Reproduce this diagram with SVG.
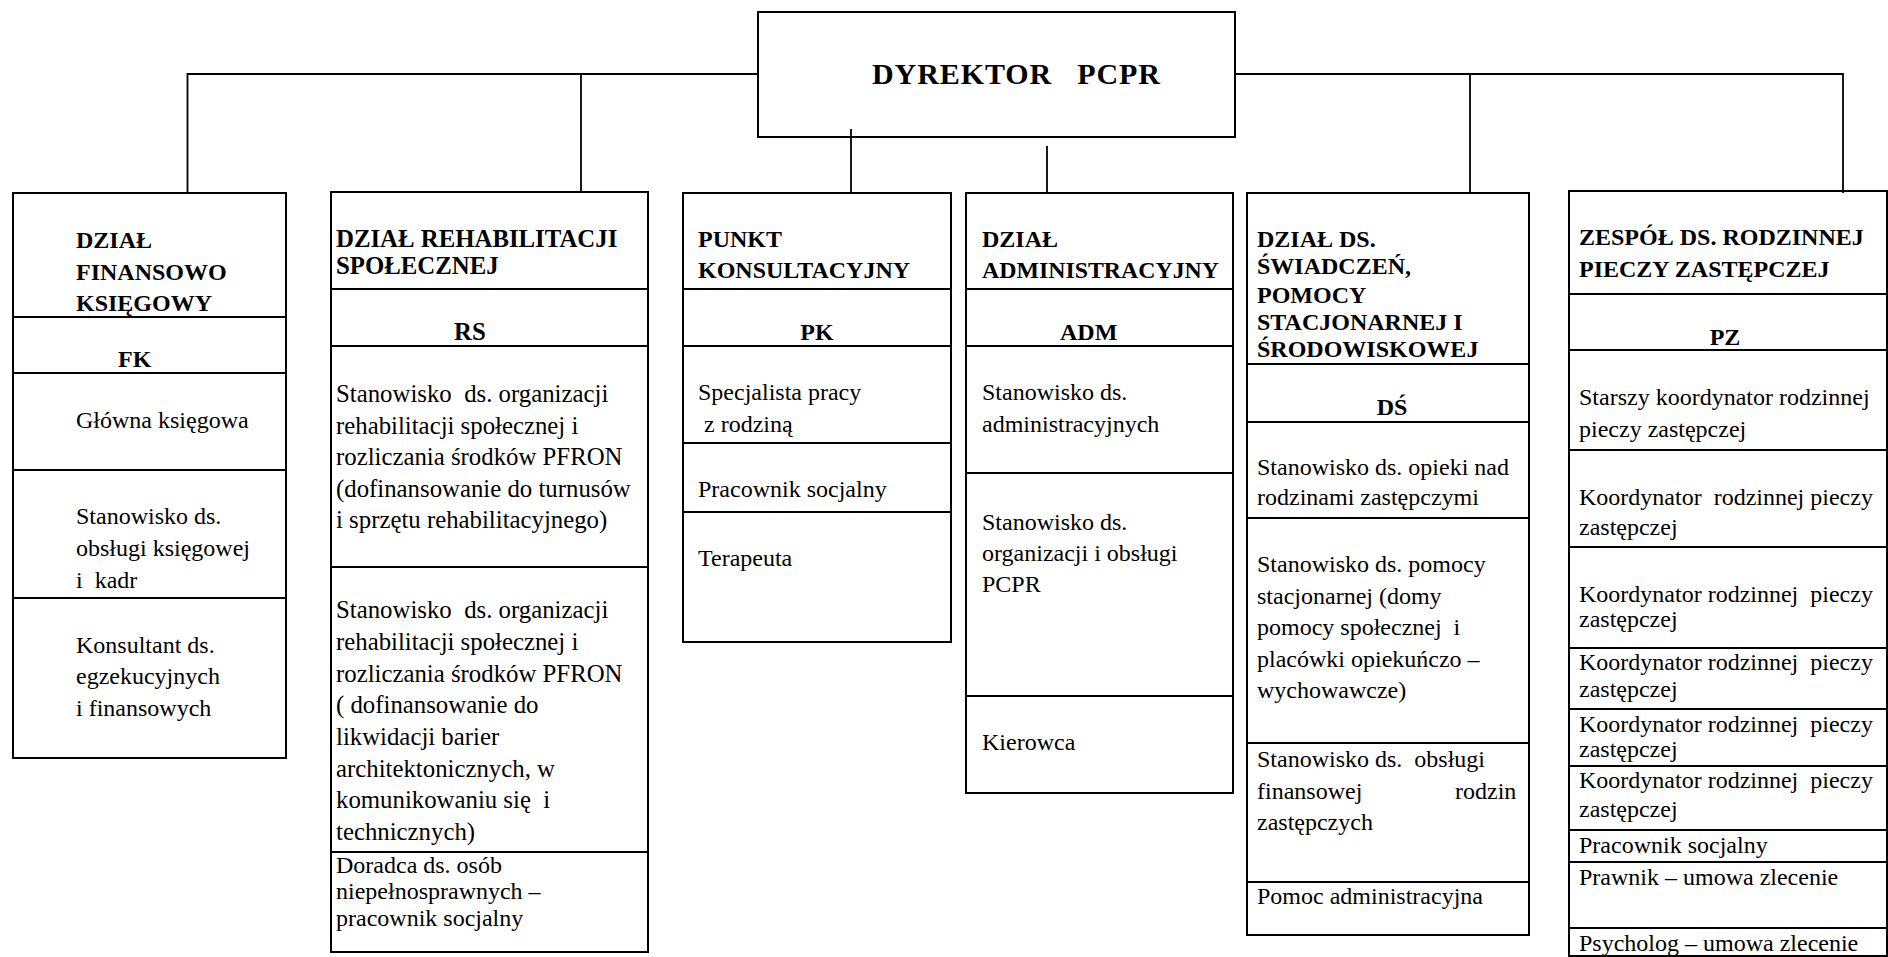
<svg xmlns="http://www.w3.org/2000/svg" width="1888" height="957" viewBox="0 0 1888 957">
<style>
.box{fill:none;stroke:#000;stroke-width:2}
.dv{stroke:#000;stroke-width:2}
.cn{stroke:#000;stroke-width:1.8;fill:none}
text{font-family:"Liberation Serif","Times New Roman",serif;font-size:24px;fill:#000;white-space:pre}
.b{font-weight:bold}
.c{text-anchor:middle}
.t{font-size:30px;font-weight:bold}
.r{font-size:24.8px}
</style>
<rect width="1888" height="957" fill="#fff"/>
<g id="connectors">
<path class="cn" d="M187.5,193 V74 H758 M1235,74 H1843 V193 M581,74 V192 M1470,74 V193 M851,129 V193 M1047,146 V193"/>
</g>
<g id="dyrektor">
<rect class="box" x="758" y="12" width="477" height="125"/>
<text class="t" x="872" y="84" textLength="288" lengthAdjust="spacing">DYREKTOR   PCPR</text>
</g>
<g id="fk">
<rect class="box" x="13" y="193" width="273" height="565"/>
<line class="dv" x1="13" y1="317" x2="286" y2="317"/>
<line class="dv" x1="13" y1="373" x2="286" y2="373"/>
<line class="dv" x1="13" y1="470" x2="286" y2="470"/>
<line class="dv" x1="13" y1="598" x2="286" y2="598"/>
<text class="b" x="76" y="248">DZIAŁ</text>
<text class="b" x="76" y="280">FINANSOWO</text>
<text class="b" x="76" y="311">KSIĘGOWY</text>
<text class="b" x="118" y="367">FK</text>
<text x="76" y="428">Główna księgowa</text>
<text x="76" y="524">Stanowisko ds.</text>
<text x="76" y="556">obsługi księgowej</text>
<text x="76" y="588">i  kadr</text>
<text x="76" y="653">Konsultant ds.</text>
<text x="76" y="684">egzekucyjnych</text>
<text x="76" y="716">i finansowych</text>
</g>
<g id="rs">
<rect class="box" x="331" y="192" width="317" height="760"/>
<line class="dv" x1="331" y1="289" x2="648" y2="289"/>
<line class="dv" x1="331" y1="346" x2="648" y2="346"/>
<line class="dv" x1="331" y1="567" x2="648" y2="567"/>
<line class="dv" x1="331" y1="852" x2="648" y2="852"/>
<text class="b r" x="336" y="247">DZIAŁ REHABILITACJI</text>
<text class="b r" x="336" y="274">SPOŁECZNEJ</text>
<text class="b r" x="454" y="340">RS</text>
<text class="r" x="336" y="402">Stanowisko  ds. organizacji</text>
<text class="r" x="336" y="433.5">rehabilitacji społecznej i</text>
<text class="r" x="336" y="465">rozliczania środków PFRON</text>
<text class="r" x="336" y="496.5">(dofinansowanie do turnusów</text>
<text class="r" x="336" y="528">i sprzętu rehabilitacyjnego)</text>
<text class="r" x="336" y="618">Stanowisko  ds. organizacji</text>
<text class="r" x="336" y="650">rehabilitacji społecznej i</text>
<text class="r" x="336" y="682">rozliczania środków PFRON</text>
<text class="r" x="336" y="713">( dofinansowanie do</text>
<text class="r" x="336" y="745">likwidacji barier</text>
<text class="r" x="336" y="777">architektonicznych, w</text>
<text class="r" x="336" y="808">komunikowaniu się  i</text>
<text class="r" x="336" y="840">technicznych)</text>
<text x="336" y="873">Doradca ds. osób</text>
<text x="336" y="899">niepełnosprawnych –</text>
<text x="336" y="926">pracownik socjalny</text>
</g>
<g id="pk">
<rect class="box" x="683" y="193" width="268" height="449"/>
<line class="dv" x1="683" y1="289" x2="951" y2="289"/>
<line class="dv" x1="683" y1="346" x2="951" y2="346"/>
<line class="dv" x1="683" y1="443" x2="951" y2="443"/>
<line class="dv" x1="683" y1="512" x2="951" y2="512"/>
<text class="b" x="698" y="247">PUNKT</text>
<text class="b" x="698" y="278">KONSULTACYJNY</text>
<text class="b c" x="817" y="340">PK</text>
<text x="698" y="400">Specjalista pracy</text>
<text x="704" y="432">z rodziną</text>
<text x="698" y="497">Pracownik socjalny</text>
<text x="698" y="566">Terapeuta</text>
</g>
<g id="adm">
<rect class="box" x="966" y="193" width="267" height="600"/>
<line class="dv" x1="966" y1="289" x2="1233" y2="289"/>
<line class="dv" x1="966" y1="346" x2="1233" y2="346"/>
<line class="dv" x1="966" y1="473" x2="1233" y2="473"/>
<line class="dv" x1="966" y1="696" x2="1233" y2="696"/>
<text class="b" x="982" y="247">DZIAŁ</text>
<text class="b" x="982" y="278" textLength="237" lengthAdjust="spacingAndGlyphs">ADMINISTRACYJNY</text>
<text class="b" x="1060" y="340">ADM</text>
<text x="982" y="400">Stanowisko ds.</text>
<text x="982" y="432">administracyjnych</text>
<text x="982" y="530">Stanowisko ds.</text>
<text x="982" y="561">organizacji i obsługi</text>
<text x="982" y="592">PCPR</text>
<text x="982" y="750">Kierowca</text>
</g>
<g id="ds">
<rect class="box" x="1247" y="193" width="282" height="742"/>
<line class="dv" x1="1247" y1="364" x2="1529" y2="364"/>
<line class="dv" x1="1247" y1="422" x2="1529" y2="422"/>
<line class="dv" x1="1247" y1="518" x2="1529" y2="518"/>
<line class="dv" x1="1247" y1="743" x2="1529" y2="743"/>
<line class="dv" x1="1247" y1="882" x2="1529" y2="882"/>
<text class="b" x="1257" y="247">DZIAŁ DS.</text>
<text class="b" x="1257" y="274">ŚWIADCZEŃ,</text>
<text class="b" x="1257" y="302.5">POMOCY</text>
<text class="b" x="1257" y="330">STACJONARNEJ I</text>
<text class="b" x="1257" y="357">ŚRODOWISKOWEJ</text>
<text class="b c" x="1392" y="415">DŚ</text>
<text x="1257" y="475">Stanowisko ds. opieki nad</text>
<text x="1257" y="505">rodzinami zastępczymi</text>
<text x="1257" y="572">Stanowisko ds. pomocy</text>
<text x="1257" y="603.5">stacjonarnej (domy</text>
<text x="1257" y="635">pomocy społecznej  i</text>
<text x="1257" y="667">placówki opiekuńczo –</text>
<text x="1257" y="698">wychowawcze)</text>
<text x="1257" y="767">Stanowisko ds.  obsługi</text>
<text x="1257" y="798.5">finansowej<tspan x="1455">rodzin</tspan></text>
<text x="1257" y="830">zastępczych</text>
<text x="1257" y="904">Pomoc administracyjna</text>
</g>
<g id="pz">
<rect class="box" x="1569" y="191" width="318" height="765"/>
<line class="dv" x1="1569" y1="294" x2="1887" y2="294"/>
<line class="dv" x1="1569" y1="350" x2="1887" y2="350"/>
<line class="dv" x1="1569" y1="450" x2="1887" y2="450"/>
<line class="dv" x1="1569" y1="547" x2="1887" y2="547"/>
<line class="dv" x1="1569" y1="648" x2="1887" y2="648"/>
<line class="dv" x1="1569" y1="709" x2="1887" y2="709"/>
<line class="dv" x1="1569" y1="766" x2="1887" y2="766"/>
<line class="dv" x1="1569" y1="830" x2="1887" y2="830"/>
<line class="dv" x1="1569" y1="862" x2="1887" y2="862"/>
<line class="dv" x1="1569" y1="928" x2="1887" y2="928"/>
<text class="b" x="1579" y="245">ZESPÓŁ DS. RODZINNEJ</text>
<text class="b" x="1579" y="277">PIECZY ZASTĘPCZEJ</text>
<text class="b c" x="1725" y="345">PZ</text>
<text x="1579" y="405">Starszy koordynator rodzinnej</text>
<text x="1579" y="437">pieczy zastępczej</text>
<text x="1579" y="505">Koordynator  rodzinnej pieczy</text>
<text x="1579" y="535">zastępczej</text>
<text x="1579" y="602">Koordynator rodzinnej  pieczy</text>
<text x="1579" y="627">zastępczej</text>
<text x="1579" y="670">Koordynator rodzinnej  pieczy</text>
<text x="1579" y="697">zastępczej</text>
<text x="1579" y="732">Koordynator rodzinnej  pieczy</text>
<text x="1579" y="757">zastępczej</text>
<text x="1579" y="788">Koordynator rodzinnej  pieczy</text>
<text x="1579" y="817">zastępczej</text>
<text x="1579" y="853">Pracownik socjalny</text>
<text x="1579" y="885">Prawnik – umowa zlecenie</text>
<text x="1579" y="951">Psycholog – umowa zlecenie</text>
</g>
</svg>
